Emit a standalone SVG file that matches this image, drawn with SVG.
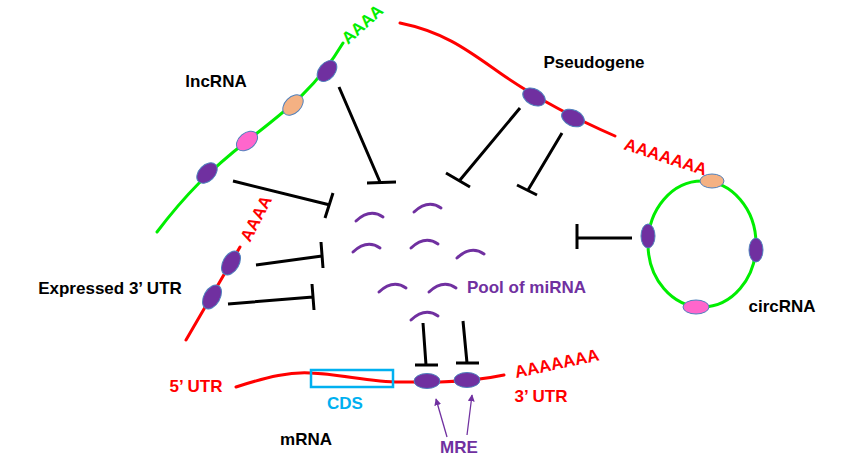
<svg xmlns="http://www.w3.org/2000/svg" width="850" height="464" viewBox="0 0 850 464">
<style>
text{font-family:"Liberation Sans",Arial,sans-serif;font-weight:bold;font-size:17px}
.lbl{fill:#000;text-anchor:middle}
.red{fill:#FF0000}
.grn{fill:#00EE00}
.pur{fill:#7030A0}
.strand{fill:none;stroke-width:3;stroke-linecap:round}
.r{stroke:#FF0000}
.g{stroke:#00EE00}
.inh{stroke:#000;stroke-width:3;fill:none}
.mi{fill:none;stroke:#7030A0;stroke-width:3;stroke-linecap:round}
.pe{fill:#7030A0;stroke:#4F81BD;stroke-width:1}
.oe{fill:#F4B183;stroke:#4F81BD;stroke-width:1}
.ke{fill:#FF66CC;stroke:#4F81BD;stroke-width:1}
.arr{stroke:#7030A0;stroke-width:1.3;fill:none}
</style>
<defs>
<path id="mi" d="M0 0 Q14 -13 27 -4"/>
<marker id="ah" viewBox="0 0 10 10" refX="9" refY="5" markerWidth="7" markerHeight="7" orient="auto" markerUnits="userSpaceOnUse">
<path d="M0 0 L10 5 L0 10 z" fill="#7030A0"/>
</marker>
</defs>
<rect width="850" height="464" fill="#fff"/>

<g id="lncRNA">
<path class="strand g" d="M157,232 C185,195 210,170 247,141 S315,90 343,43"/>
<ellipse class="pe" cx="207" cy="173" rx="12" ry="8" transform="rotate(-45 207 173)"/>
<ellipse class="ke" cx="247" cy="141" rx="12" ry="8" transform="rotate(-40 247 141)"/>
<ellipse class="oe" cx="293" cy="105" rx="12" ry="8" transform="rotate(-45 293 105)"/>
<ellipse class="pe" cx="327" cy="71" rx="12" ry="8" transform="rotate(-50 327 71)"/>
<text class="grn" transform="translate(348,45) rotate(-42)">AAAA</text>
<text class="lbl" x="216" y="87">lncRNA</text>
</g>

<g id="pseudogene">
<path class="strand r" d="M400,23 C445,32 470,52 500,73 C520,87 560,112 615,136"/>
<ellipse class="pe" cx="534" cy="97" rx="12" ry="8" transform="rotate(28 534 97)"/>
<ellipse class="pe" cx="573" cy="118" rx="12" ry="8" transform="rotate(25 573 118)"/>
<text class="red" transform="translate(623,149) rotate(18)">AAAAAAA</text>
<text class="lbl" x="594" y="68">Pseudogene</text>
</g>

<g id="circRNA">
<ellipse cx="702" cy="244" rx="54" ry="63" fill="none" stroke="#00EE00" stroke-width="3"/>
<ellipse class="oe" cx="712" cy="181" rx="12" ry="7"/>
<ellipse class="pe" cx="648" cy="236" rx="7" ry="12"/>
<ellipse class="pe" cx="756" cy="250" rx="7" ry="12"/>
<ellipse class="ke" cx="696" cy="307" rx="13" ry="7"/>
<text class="lbl" x="782" y="312">circRNA</text>
</g>

<g id="utr3">
<path class="strand r" d="M186,340 L240,247"/>
<ellipse class="pe" cx="212" cy="297" rx="13" ry="8" transform="rotate(-60 212 297)"/>
<ellipse class="pe" cx="231" cy="263" rx="13" ry="8" transform="rotate(-60 231 263)"/>
<text class="red" transform="translate(250,243) rotate(-63)">AAAA</text>
<text class="lbl" x="110" y="294">Expressed 3’ UTR</text>
</g>

<g id="mirna-pool">
<use href="#mi" class="mi" x="356" y="221"/>
<use href="#mi" class="mi" x="414" y="212"/>
<use href="#mi" class="mi" x="353" y="252"/>
<use href="#mi" class="mi" x="411" y="248"/>
<use href="#mi" class="mi" x="457" y="258"/>
<use href="#mi" class="mi" x="379" y="292"/>
<use href="#mi" class="mi" x="429" y="292"/>
<use href="#mi" class="mi" x="411" y="320"/>
<text class="pur" x="467" y="293">Pool of miRNA</text>
</g>

<g id="mRNA">
<path class="strand r" d="M236,387 C270,376 290,372 310,373 C340,374 370,382 400,382 L440,382 C470,381 490,378 504,375"/>
<rect x="311" y="370" width="82" height="17" fill="none" stroke="#00B0F0" stroke-width="2.5"/>
<ellipse class="pe" cx="427" cy="381" rx="13" ry="7.5"/>
<ellipse class="pe" cx="467" cy="380" rx="13" ry="7.5"/>
<text class="red" transform="translate(516,378) rotate(-12)">AAAAAAA</text>
<text class="red" x="196" y="392" text-anchor="middle">5’ UTR</text>
<text x="345" y="409" text-anchor="middle" fill="#00B0F0">CDS</text>
<text class="red" x="541" y="402" text-anchor="middle">3’ UTR</text>
<text class="lbl" x="306" y="445">mRNA</text>
<text class="pur" x="459" y="453" text-anchor="middle">MRE</text>
</g>

<g id="connectors">
<path class="inh" d="M339,87 L380,182 M367,183 L396,182"/>
<path class="inh" d="M233,181 L330,205 M333,193 L325,218"/>
<path class="inh" d="M520,108 L460,180 M446,173 L470,187"/>
<path class="inh" d="M562,133 L528,190 M517,185 L537,195"/>
<path class="inh" d="M632,238 L577,238 M577,224 L577,249"/>
<path class="inh" d="M256,265 L322,256 M321,242 L323,268"/>
<path class="inh" d="M228,304 L313,297 M312,284 L314,310"/>
<path class="inh" d="M423,323 L426,365 M415,365 L438,365"/>
<path class="inh" d="M463,321 L467,363 M456,363 L479,363"/>
<line class="arr" x1="447" y1="437" x2="436" y2="399" marker-end="url(#ah)"/>
<line class="arr" x1="467" y1="435" x2="472" y2="395" marker-end="url(#ah)"/>
</g>
</svg>
